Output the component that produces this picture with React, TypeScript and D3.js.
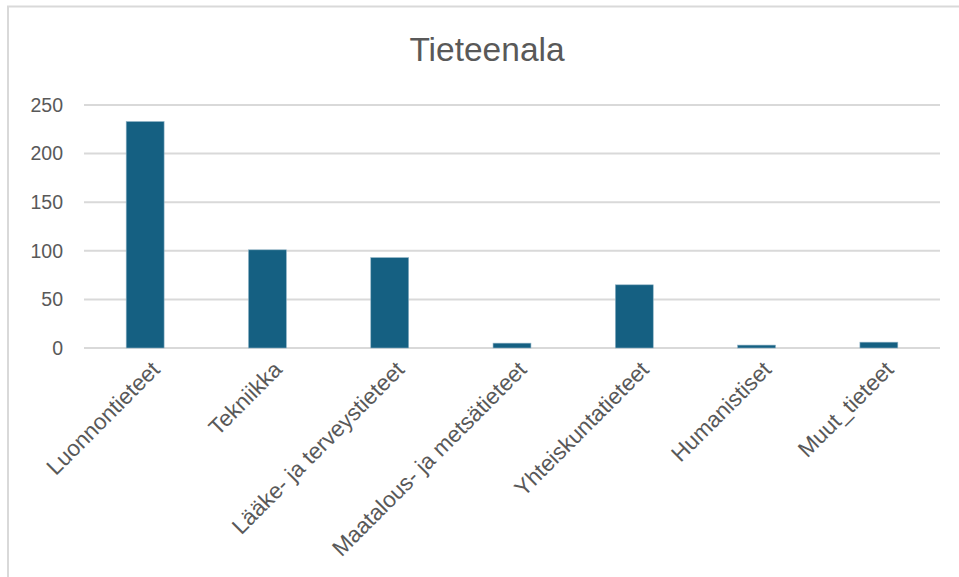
import React from "react";
import * as d3 from "d3";

const categories = [
  "Luonnontieteet",
  "Tekniikka",
  "Lääke- ja terveystieteet",
  "Maatalous- ja metsätieteet",
  "Yhteiskuntatieteet",
  "Humanistiset",
  "Muut_tieteet",
];
const values = [233, 101, 93, 5, 65, 3, 6];
const yTicks = [0, 50, 100, 150, 200, 250];
const title = "Tieteenala";

const W = 959;
const H = 577;
const FONT = "'Liberation Sans', Arial, sans-serif";
const TEXT = "#595959";
const GRID = "#d9d9d9";
const BAR = "#156082";

export default function App() {
  const x = d3
    .scaleBand<string>()
    .domain(categories)
    .range([84, 940])
    .paddingInner(0.69)
    .paddingOuter(0.345);
  const y = d3.scaleLinear().domain([0, 250]).range([348, 105]);

  return (
    <svg
      width={W}
      height={H}
      style={{ position: "absolute", left: 0, top: 0, background: "#fff" }}
      fontFamily={FONT}
    >
      <rect x={8} y={6.5} width={1200} height={1000} fill="#fff" stroke={GRID} strokeWidth={2} />
      <text x={487} y={61} textAnchor="middle" fontSize={33.5} fill={TEXT}>
        {title}
      </text>
      {yTicks.map((t) => (
        <g key={t}>
          <line x1={84} x2={940} y1={y(t)} y2={y(t)} stroke={GRID} strokeWidth={2} />
          <text x={63} y={y(t)} dy="0.35em" textAnchor="end" fontSize={19.5} fill={TEXT}>
            {t}
          </text>
        </g>
      ))}
      {categories.map((c, i) => (
        <rect
          key={c}
          x={x(c)!}
          y={y(values[i])}
          width={x.bandwidth()}
          height={y(0) - y(values[i])}
          fill={BAR}
          stroke="#8fb3c6"
          strokeWidth={0.6}
        />
      ))}
      {categories.map((c) => {
        const cx = x(c)! + x.bandwidth() / 2 + 16;
        const cy = 371;
        return (
          <text
            key={c}
            transform={`translate(${cx},${cy}) rotate(-45)`}
            textAnchor="end"
            fontSize={22.5}
            fill={TEXT}
          >
            {c}
          </text>
        );
      })}
    </svg>
  );
}
